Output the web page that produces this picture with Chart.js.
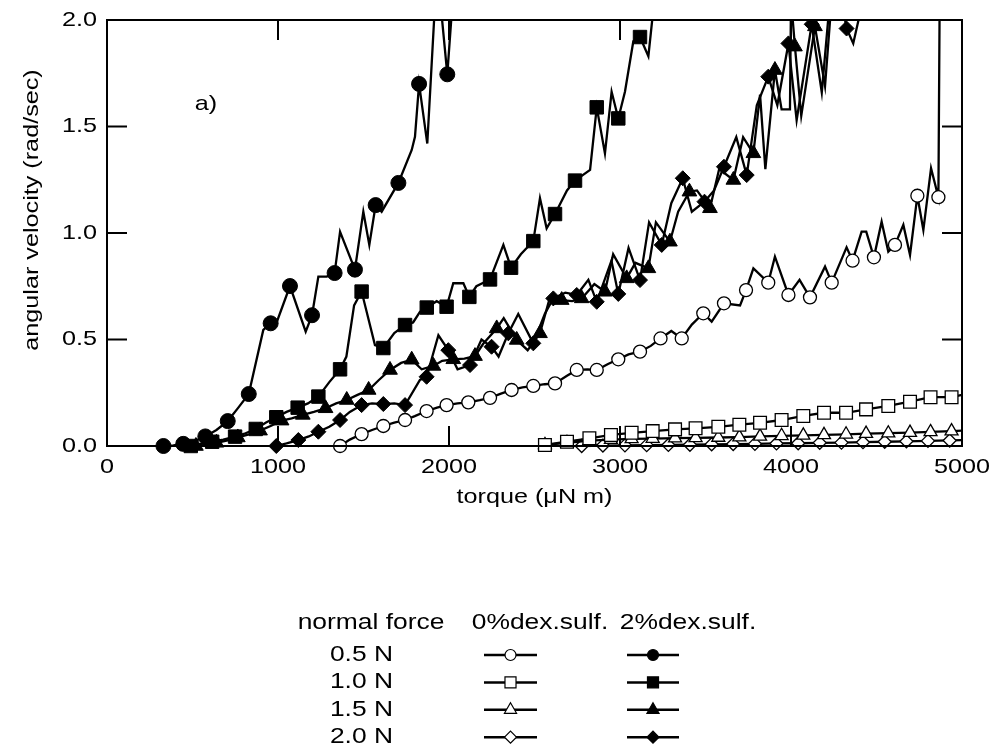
<!DOCTYPE html>
<html>
<head>
<meta charset="utf-8">
<script src="https://cdn.jsdelivr.net/npm/chart.js@4.4.1/dist/chart.umd.min.js"></script>
<style>
body { margin: 0; background: #fff; }
canvas { display: block; }
</style>
</head>
<body>
<canvas id="grafico" width="993" height="753"></canvas>
<script>
// [torque, velocidad, marcador(1) o solo vértice de la línea(0)]
// 2% dex.sulf.
const filled05 = [[330,0,1],[388,0.003,0],[446,0.01,1],[510,0.022,0],[575,0.045,1],[640,0.075,0],[706,0.117,1],[768,0.18,0],[829,0.244,1],[914,0.545,0],[957,0.576,1],[992,0.58,0],[1070,0.751,1],[1162,0.537,0],[1199,0.614,1],[1236,0.795,0],[1285,0.795,0],[1331,0.812,1],[1363,1.006,0],[1450,0.828,1],[1499,1.10,0],[1534,0.944,0],[1571,1.131,1],[1606,1.10,0],[1704,1.235,1],[1782,1.39,0],[1801,1.452,0],[1825,1.70,1],[1873,1.42,0],[1930,2.25,0],[1990,1.745,1],[2040,2.3,0],[2100,2.8,0]];
const filled10 = [[490,0,1],[550,0.01,0],[615,0.02,1],[680,0.03,0],[749,0.044,1],[810,0.06,0],[870,0.08,1],[930,0.11,0],[990,0.135,1],[1050,0.16,0],[1115,0.18,1],[1175,0.2,0],[1236,0.232,1],[1300,0.3,0],[1363,0.36,1],[1400,0.42,0],[1445,0.66,0],[1489,0.725,1],[1567,0.474,0],[1616,0.46,1],[1680,0.53,0],[1743,0.568,1],[1790,0.58,0],[1830,0.63,0],[1870,0.65,1],[1928,0.68,0],[1986,0.654,1],[2025,0.764,0],[2084,0.764,0],[2119,0.70,1],[2160,0.75,0],[2240,0.782,1],[2318,0.944,0],[2363,0.837,1],[2420,0.9,0],[2493,0.962,1],[2532,1.163,0],[2571,1.022,0],[2620,1.089,1],[2690,1.2,0],[2737,1.246,1],[2825,1.296,0],[2864,1.59,1],[2912,1.374,0],[2951,1.663,0],[2990,1.538,1],[3029,1.663,0],[3078,1.90,0],[3117,1.92,1],[3166,1.83,0],[3195,2.05,0],[3260,2.4,0]];
const filled15 = [[520,0,1],[580,0.005,0],[640,0.015,1],[700,0.025,0],[765,0.04,1],[830,0.055,0],[895,0.072,1],[960,0.095,0],[1021,0.119,1],[1080,0.13,0],[1145,0.146,1],[1210,0.16,0],[1278,0.177,1],[1340,0.2,0],[1402,0.216,1],[1465,0.24,0],[1530,0.263,1],[1590,0.31,0],[1655,0.357,1],[1720,0.39,0],[1782,0.405,1],[1840,0.36,0],[1909,0.376,1],[1960,0.4,0],[2025,0.407,1],[2090,0.41,0],[2152,0.422,1],[2200,0.48,0],[2279,0.552,1],[2320,0.6,0],[2396,0.498,1],[2460,0.45,0],[2532,0.529,1],[2591,0.70,0],[2659,0.685,1],[2720,0.68,0],[2776,0.693,1],[2850,0.76,0],[2912,0.724,1],[2960,0.9,0],[3039,0.787,1],[3090,0.86,0],[3166,0.834,1],[3210,1.05,0],[3292,0.959,1],[3340,1.1,0],[3406,1.194,1],[3450,1.2,0],[3526,1.116,1],[3580,1.3,0],[3663,1.249,1],[3720,1.45,0],[3780,1.374,1],[3819,1.65,0],[3850,1.3,0],[3906,1.765,1],[3945,1.58,0],[3994,1.58,0],[4000,2.1,0],[4023,1.875,1],[4060,1.55,0],[4140,1.97,1],[4199,1.69,0],[4238,2.1,0],[4300,2.5,0]];
const filled20 = [[990,0,1],[1050,0.012,0],[1119,0.028,1],[1180,0.045,0],[1236,0.067,1],[1300,0.09,0],[1363,0.122,1],[1420,0.16,0],[1489,0.192,1],[1550,0.2,0],[1616,0.197,1],[1680,0.2,0],[1743,0.192,1],[1830,0.31,0],[1869,0.325,1],[1938,0.52,0],[1996,0.45,1],[2050,0.36,0],[2123,0.38,1],[2190,0.5,0],[2249,0.466,1],[2290,0.42,0],[2347,0.529,1],[2405,0.62,0],[2493,0.482,1],[2560,0.62,0],[2610,0.693,1],[2680,0.72,0],[2747,0.709,1],[2815,0.78,0],[2864,0.677,1],[2950,0.87,0],[2990,0.714,1],[3050,0.93,0],[3117,0.779,1],[3170,1.05,0],[3244,0.944,1],[3300,1.14,0],[3367,1.257,1],[3420,1.1,0],[3494,1.147,1],[3550,1.2,0],[3608,1.311,1],[3680,1.45,0],[3741,1.272,1],[3800,1.6,0],[3867,1.734,1],[3920,1.6,0],[3985,1.89,1],[4033,1.53,0],[4121,1.98,1],[4180,1.66,0],[4250,2.3,0],[4325,1.96,1],[4364,1.89,0],[4423,2.1,0],[4480,2.5,0]];
// 0% dex.sulf.
const open05 = [[1363,0,1],[1420,0.03,0],[1489,0.056,1],[1550,0.075,0],[1616,0.094,1],[1680,0.11,0],[1743,0.122,1],[1800,0.14,0],[1869,0.164,1],[1930,0.18,0],[1986,0.192,1],[2050,0.2,0],[2113,0.205,1],[2180,0.215,0],[2240,0.226,1],[2300,0.245,0],[2366,0.263,1],[2430,0.275,0],[2493,0.282,1],[2560,0.29,0],[2620,0.294,1],[2690,0.33,0],[2747,0.357,1],[2810,0.36,0],[2864,0.357,1],[2930,0.385,0],[2990,0.407,1],[3050,0.43,0],[3117,0.443,1],[3180,0.47,0],[3237,0.505,1],[3300,0.54,0],[3361,0.505,1],[3420,0.57,0],[3487,0.623,1],[3536,0.584,0],[3608,0.67,1],[3702,0.66,0],[3737,0.732,1],[3780,0.834,0],[3867,0.767,1],[3906,0.889,0],[3985,0.709,1],[4050,0.78,0],[4111,0.698,1],[4199,0.842,0],[4238,0.767,1],[4325,0.933,0],[4360,0.87,1],[4413,1.006,0],[4440,1.006,0],[4485,0.886,1],[4530,1.053,0],[4569,0.912,0],[4608,0.944,1],[4657,1.038,0],[4696,0.897,0],[4739,1.175,1],[4774,1.014,0],[4819,1.304,0],[4862,1.168,1],[4871,2.3,0]];
const open10 = [[2561,0.005,1],[2690,0.02,1],[2821,0.036,1],[2947,0.052,1],[3068,0.062,1],[3191,0.07,1],[3322,0.078,1],[3442,0.083,1],[3575,0.09,1],[3698,0.10,1],[3819,0.109,1],[3945,0.122,1],[4072,0.141,1],[4193,0.156,1],[4322,0.156,1],[4439,0.172,1],[4569,0.188,1],[4696,0.208,1],[4816,0.229,1],[4939,0.229,1],[5000,0.24,0]];
const open15 = [[2561,0.005,1],[2690,0.015,1],[2821,0.025,1],[2947,0.03,1],[3068,0.033,1],[3191,0.035,1],[3322,0.037,1],[3442,0.038,1],[3575,0.04,1],[3698,0.042,1],[3819,0.045,1],[3945,0.048,1],[4072,0.05,1],[4193,0.052,1],[4322,0.055,1],[4439,0.058,1],[4569,0.06,1],[4696,0.063,1],[4816,0.066,1],[4939,0.07,1],[5000,0.072,0]];
const open20 = [[2776,0,1],[2900,0.002,1],[3029,0.003,1],[3156,0.004,1],[3283,0.005,1],[3409,0.006,1],[3536,0.008,1],[3662,0.009,1],[3789,0.01,1],[3915,0.012,1],[4042,0.013,1],[4168,0.015,1],[4295,0.016,1],[4421,0.018,1],[4548,0.02,1],[4675,0.022,1],[4801,0.024,1],[4928,0.026,1],[5000,0.028,0]];

const xTicks = [0, 1000, 2000, 3000, 4000, 5000];
const yTicks = [0, 0.5, 1.0, 1.5, 2.0];
const forces = ['0.5 N', '1.0 N', '1.5 N', '2.0 N'];
const headers = ['normal force', '0%dex.sulf.', '2%dex.sulf.'];
const shapes = ['circle', 'rect', 'triangle', 'rectRot'];

const FONT = 'Liberation Sans, Arial, sans-serif';

function serie(label, pts, shape, filled, r) {
    return {
        label: label,
        data: pts.map(p => ({ x: p[0], y: p[1], m: p[2] })),
        borderColor: '#000',
        borderWidth: 2.3,
        tension: 0,
        pointStyle: shape,
        pointRadius: c => (c.raw && c.raw.m ? r : 0),
        pointHoverRadius: c => (c.raw && c.raw.m ? r : 0),
        pointBackgroundColor: filled ? '#000' : '#fff',
        pointBorderColor: '#000',
        pointBorderWidth: filled ? 1 : 1.3,
        clip: { left: 10, top: 0, right: 10, bottom: 10 }
    };
}

// texto algo ensanchado, como en la figura original
function texto(ctx, t, x, y, align, size, rot) {
    ctx.save();
    ctx.translate(x, y);
    if (rot) ctx.rotate(rot);
    ctx.scale(1.2, 1);
    ctx.font = size + 'px ' + FONT;
    ctx.fillStyle = '#000';
    ctx.textAlign = align;
    ctx.textBaseline = 'middle';
    ctx.fillText(t, 0, 0);
    ctx.restore();
}

function marca(ctx, style, x, y, r, filled) {
    ctx.beginPath();
    if (style === 'circle') {
        ctx.arc(x, y, r, 0, 2 * Math.PI);
    } else if (style === 'rect') {
        const s = r * Math.SQRT1_2;
        ctx.rect(x - s, y - s, 2 * s, 2 * s);
    } else if (style === 'triangle') {
        ctx.moveTo(x, y - r);
        ctx.lineTo(x + r * 0.866, y + r / 2);
        ctx.lineTo(x - r * 0.866, y + r / 2);
        ctx.closePath();
    } else {
        ctx.moveTo(x - r, y);
        ctx.lineTo(x, y - r);
        ctx.lineTo(x + r, y);
        ctx.lineTo(x, y + r);
        ctx.closePath();
    }
    ctx.fillStyle = filled ? '#000' : '#fff';
    ctx.fill();
    ctx.lineWidth = 1.2;
    ctx.strokeStyle = '#000';
    ctx.stroke();
}

const marco = {
    id: 'marco',
    afterDraw(chart) {
        const ctx = chart.ctx;
        const a = chart.chartArea;
        const sx = chart.scales.x, sy = chart.scales.y;
        ctx.save();
        ctx.strokeStyle = '#000';
        ctx.lineWidth = 2;
        ctx.strokeRect(a.left, a.top, a.right - a.left, a.bottom - a.top);
        ctx.beginPath();
        xTicks.slice(1, -1).forEach(v => {
            const px = sx.getPixelForValue(v);
            ctx.moveTo(px, a.bottom); ctx.lineTo(px, a.bottom - 20);
            ctx.moveTo(px, a.top); ctx.lineTo(px, a.top + 20);
        });
        yTicks.slice(1, -1).forEach(v => {
            const py = sy.getPixelForValue(v);
            ctx.moveTo(a.left, py); ctx.lineTo(a.left + 20, py);
            ctx.moveTo(a.right, py); ctx.lineTo(a.right - 20, py);
        });
        ctx.stroke();

        // etiquetas de los ejes
        xTicks.forEach(v => texto(ctx, String(v), sx.getPixelForValue(v), a.bottom + 21, 'center', 21));
        yTicks.forEach(v => texto(ctx, v.toFixed(1), a.left - 10, sy.getPixelForValue(v), 'right', 21));

        texto(ctx, 'torque (\u03bcN m)', (a.left + a.right) / 2, 497, 'center', 21);
        texto(ctx, 'angular velocity (rad/sec)', 32, 210, 'center', 21, -Math.PI / 2);
        texto(ctx, 'a)', 206, 104, 'center', 21);

        // leyenda en forma de tabla
        texto(ctx, headers[0], 371, 623, 'center', 22);
        texto(ctx, headers[1], 540, 623, 'center', 22);
        texto(ctx, headers[2], 688, 623, 'center', 22);
        const radios = [5.5, 7.8, 7, 6];
        forces.forEach((f, i) => {
            const yy = 655 + i * 27.4;
            texto(ctx, f, 393, yy, 'right', 22);
            [[484, 537, false], [627, 679, true]].forEach(c => {
                ctx.lineWidth = 2.5;
                ctx.beginPath();
                ctx.moveTo(c[0], yy); ctx.lineTo(c[1], yy);
                ctx.stroke();
                marca(ctx, shapes[i], (c[0] + c[1]) / 2, yy, radios[i], c[2]);
            });
        });
        ctx.restore();
    }
};

document.addEventListener('DOMContentLoaded', function () {
    const ctx = document.getElementById('grafico').getContext('2d');
    new Chart(ctx, {
        type: 'line',
        data: {
            datasets: [
                serie('2% 0.5 N', filled05, 'circle', true, 7.5),
                serie('2% 1.0 N', filled10, 'rect', true, 9.5),
                serie('2% 1.5 N', filled15, 'triangle', true, 8.5),
                serie('2% 2.0 N', filled20, 'rectRot', true, 7.5),
                serie('0% 0.5 N', open05, 'circle', false, 6.5),
                serie('0% 1.0 N', open10, 'rect', false, 9),
                serie('0% 1.5 N', open15, 'triangle', false, 7.5),
                serie('0% 2.0 N', open20, 'rectRot', false, 6.5)
            ]
        },
        options: {
            responsive: false,
            animation: false,
            devicePixelRatio: 1,
            layout: { padding: { left: 0, top: 20, right: 31, bottom: 247 } },
            plugins: { legend: { display: false }, tooltip: { enabled: false } },
            scales: {
                x: {
                    type: 'linear',
                    min: 0,
                    max: 5000,
                    afterBuildTicks: s => { s.ticks = xTicks.map(v => ({ value: v })); },
                    afterFit: s => { s.height = 60; },
                    grid: { display: false },
                    border: { display: false },
                    ticks: { display: false }
                },
                y: {
                    type: 'linear',
                    min: 0,
                    max: 2,
                    afterBuildTicks: s => { s.ticks = yTicks.map(v => ({ value: v })); },
                    afterFit: s => { s.width = 107; },
                    grid: { display: false },
                    border: { display: false },
                    ticks: { display: false }
                }
            }
        },
        plugins: [marco]
    });
});
</script>
</body>
</html>
